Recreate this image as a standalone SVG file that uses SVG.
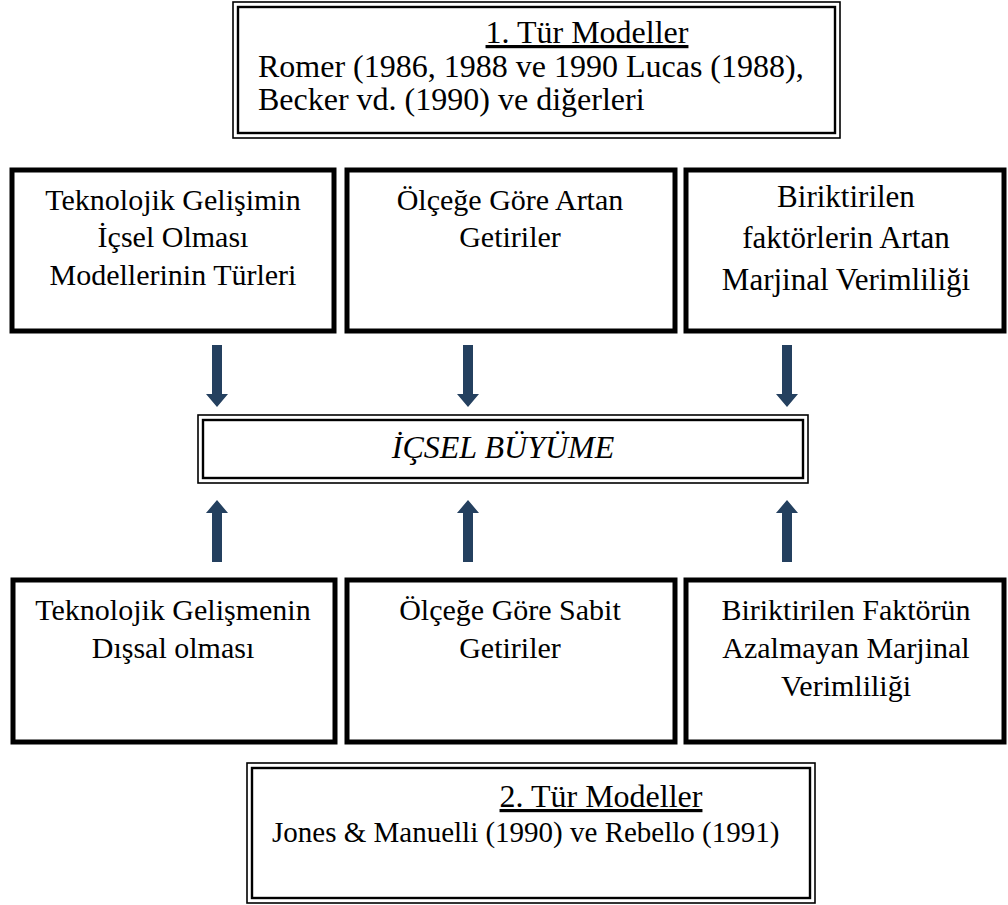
<svg xmlns="http://www.w3.org/2000/svg" width="1008" height="905" viewBox="0 0 1008 905">
<defs>
<style>
.t{font-family:"Liberation Serif","Times New Roman",serif;font-size:30px;fill:#000}
.c{text-anchor:middle}
.big{font-size:31px}
.sm{font-size:29px}
.ttl{font-size:32px}
.it{font-style:italic;font-size:32px}
.thick{fill:#fff;stroke:#000;stroke-width:5}
.o{fill:none;stroke:#000;stroke-width:1.6}
.i{fill:none;stroke:#000;stroke-width:2.4}
.arr{fill:#24405F}
</style>
<path id="down" class="arr" d="M-5,0 H5 V49 H11 L0,62 L-11,49 H-5 Z"/>
</defs>
<rect width="1008" height="905" fill="#fff"/>
<g id="top-box">
<rect class="o" x="233" y="2" width="607" height="136"/>
<rect class="i" x="238" y="7" width="597" height="126"/>
<text class="t c ttl" x="587" y="43" text-decoration="underline">1. Tür Modeller</text>
<text class="t ttl" x="258" y="77">Romer (1986, 1988 ve 1990 Lucas (1988),</text>
<text class="t ttl" x="258" y="110">Becker vd. (1990) ve diğerleri</text>
</g>
<g id="box-tek-icsel">
<rect class="thick" x="12" y="170" width="322" height="161"/>
<text class="t c" x="173" y="210">Teknolojik Gelişimin</text>
<text class="t c" x="173" y="247">İçsel Olması</text>
<text class="t c" x="173" y="285">Modellerinin Türleri</text>
</g>
<g id="box-artan">
<rect class="thick" x="347" y="170" width="328" height="161"/>
<text class="t c" x="510" y="210">Ölçeğe Göre Artan</text>
<text class="t c" x="510" y="247">Getiriler</text>
</g>
<g id="box-biriktirilen-artan">
<rect class="thick" x="686" y="170" width="318" height="161"/>
<text class="t c big" x="846" y="207">Biriktirilen</text>
<text class="t c big" x="846" y="248">faktörlerin Artan</text>
<text class="t c big" x="846" y="290">Marjinal Verimliliği</text>
</g>
<g id="center-box">
<rect class="o" x="198" y="415" width="610" height="68"/>
<rect class="i" x="203" y="420" width="600" height="58"/>
<text class="t c it" x="503" y="458">İÇSEL BÜYÜME</text>
</g>
<g id="box-tek-dissal">
<rect class="thick" x="13" y="580" width="322" height="162"/>
<text class="t c" x="173" y="620">Teknolojik Gelişmenin</text>
<text class="t c" x="173" y="658">Dışsal olması</text>
</g>
<g id="box-sabit">
<rect class="thick" x="347" y="580" width="328" height="162"/>
<text class="t c" x="510" y="620">Ölçeğe Göre Sabit</text>
<text class="t c" x="510" y="658">Getiriler</text>
</g>
<g id="box-biriktirilen-azalmayan">
<rect class="thick" x="686" y="580" width="318" height="162"/>
<text class="t c" x="846" y="620">Biriktirilen Faktörün</text>
<text class="t c" x="846" y="658">Azalmayan Marjinal</text>
<text class="t c" x="846" y="696">Verimliliği</text>
</g>
<g id="bottom-box">
<rect class="o" x="247" y="763" width="568" height="140"/>
<rect class="i" x="252" y="768" width="558" height="130"/>
<text class="t c ttl" x="601" y="807" text-decoration="underline">2. Tür Modeller</text>
<text class="t sm" x="272" y="842">Jones &amp; Manuelli (1990) ve Rebello (1991)</text>
</g>
<g id="connectors">
<use href="#down" x="217" y="345"/>
<use href="#down" x="468" y="345"/>
<use href="#down" x="787" y="345"/>
<use href="#down" transform="translate(217,562) scale(1,-1)"/>
<use href="#down" transform="translate(468,562) scale(1,-1)"/>
<use href="#down" transform="translate(787,562) scale(1,-1)"/>
</g>
</svg>
